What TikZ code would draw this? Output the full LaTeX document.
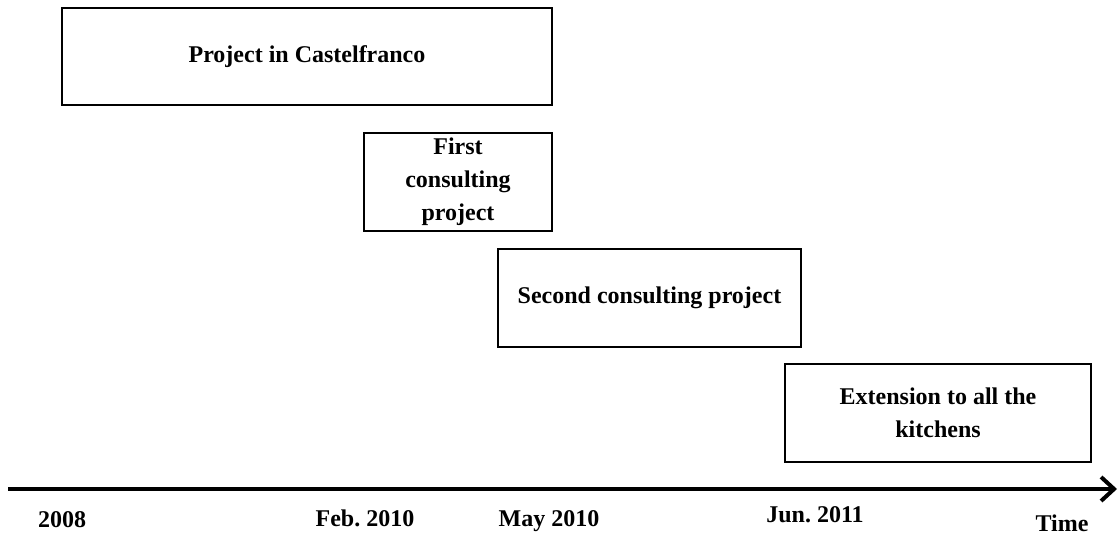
\documentclass[tikz,border=0pt]{standalone}
\usepackage{fontspec}
\setmainfont{Liberation Serif}
\usetikzlibrary{arrows.meta}
\frenchspacing

\tikzset{
  phase/.style={draw=black, line width=2.5pt, rectangle, inner sep=0pt,
    align=center, font=\fontsize{24}{33}\selectfont\bfseries},
  datelabel/.style={anchor=base, inner sep=0pt,
    font=\fontsize{24}{29}\selectfont\bfseries},
  timeaxis/.style={line width=4pt, -{Straight Barb[length=13pt,width=24pt]}}
}

\begin{document}
\begin{tikzpicture}[x=1pt,y=-1pt]
  \useasboundingbox (0,0) rectangle (1119,534);

  % project phases
  \node[phase, minimum width=490pt, minimum height=97pt] (castel) at (307,56.5)
    {Project in Castelfranco};
  \node[phase, minimum width=188pt, minimum height=98pt] (first) at (458,182)
    {First\\consulting\\project};
  \node[phase, minimum width=303pt, minimum height=98pt] (second) at (649.5,298)
    {Second consulting project};
  \node[phase, minimum width=306pt, minimum height=98pt] (extension) at (938,413)
    {Extension to all the\\kitchens};

  % time axis
  \coordinate (axstart) at (8,489);
  \coordinate (axend) at (1117,489);
  \draw[timeaxis] (axstart) -- (axend);

  % dates
  \node[datelabel] (d2008) at (62,527) {2008};
  \node[datelabel] (dfeb) at (365,526) {Feb. 2010};
  \node[datelabel] (dmay) at (549,526) {May 2010};
  \node[datelabel] (djun) at (815,522) {Jun. 2011};
  \node[datelabel] (dtime) at (1062,531) {Time};
\end{tikzpicture}
\end{document}
